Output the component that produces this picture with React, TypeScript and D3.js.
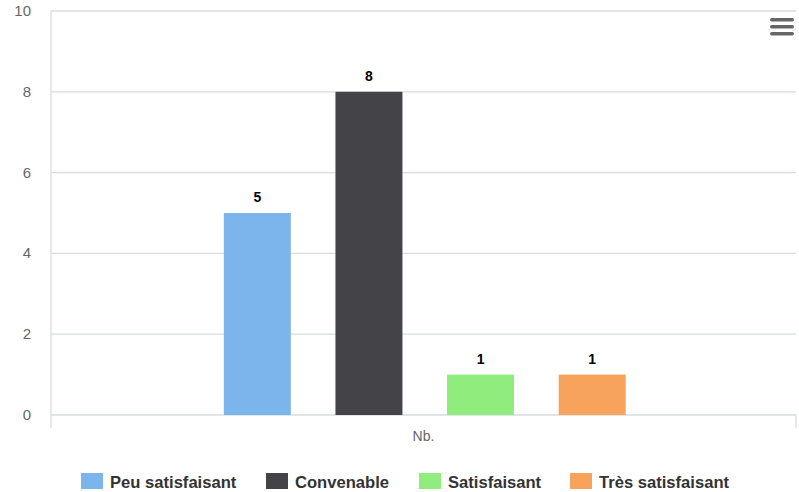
import React from "react";
import * as d3 from "d3";

const categories = ["Nb."];
const seriesNames = ["Peu satisfaisant", "Convenable", "Satisfaisant", "Très satisfaisant"];
const seriesValues = [5, 8, 1, 1];
const seriesColors = ["#7cb5ec", "#434348", "#90ed7d", "#f7a35c"];
const yTicks = [0, 2, 4, 6, 8, 10];

const W = 799;
const H = 492;
const left = 51;
const right = 796;
const top = 11;
const bottom = 415;
const font = "'Liberation Sans', Arial, Helvetica, sans-serif";

export default function App() {
  const y = d3.scaleLinear().domain([0, 10]).range([bottom, top]);
  const xCat = d3.scaleBand().domain(categories).range([left, right]).paddingInner(0).paddingOuter(0);
  const gw = xCat.bandwidth();
  const g0 = xCat(categories[0])!;
  const x = d3
    .scaleBand()
    .domain(seriesNames)
    .range([g0 + gw * 0.2 + 1.5, g0 + gw * 0.8 + 1])
    .paddingInner(0.4)
    .paddingOuter(0.2);

  const legendX = [81, 266, 419, 570];

  return (
    <div style={{ position: "absolute", left: 0, top: 0 }}>
      <svg width={W} height={H} style={{ display: "block", fontFamily: font }}>
        <rect x={0} y={0} width={W} height={H} fill="#fff" />
        {yTicks.map((t) => (
          <g key={t}>
            <line x1={left} x2={right} y1={y(t)} y2={y(t)} stroke="#d8dde0" strokeWidth={1.3} />
            <text x={31} y={y(t) + 5} textAnchor="end" fontSize={15} fill="#666">
              {t}
            </text>
          </g>
        ))}
        <line x1={left} x2={left} y1={top} y2={bottom + 13} stroke="#d8dde0" strokeWidth={1.3} />
        <line x1={right} x2={right} y1={bottom} y2={bottom + 13} stroke="#d8dde0" strokeWidth={1.3} />
        {seriesNames.map((s, i) => (
          <g key={s}>
            <rect
              x={x(s)!}
              y={y(seriesValues[i])}
              width={x.bandwidth()}
              height={y(0) - y(seriesValues[i])}
              fill={seriesColors[i]}
            />
            <text
              x={x(s)! + x.bandwidth() / 2}
              y={y(seriesValues[i]) - 11}
              textAnchor="middle"
              fontSize={14}
              fontWeight="bold"
              fill="#000"
            >
              {seriesValues[i]}
            </text>
          </g>
        ))}
        {categories.map((c) => (
          <text key={c} x={g0 + gw / 2} y={441} textAnchor="middle" fontSize={14} fill="#666">
            {c}
          </text>
        ))}
        {seriesNames.map((s, i) => (
          <g key={s} transform={`translate(${legendX[i]},473)`}>
            <rect x={0} y={0} width={22} height={16} fill={seriesColors[i]} />
            <text x={29} y={15} fontSize={16.6} fontWeight="bold" fill="#333">
              {s}
            </text>
          </g>
        ))}
        <g fill="#666">
          {[18, 25, 32].map((yy) => (
            <rect key={yy} x={770} y={yy} width={24} height={3.5} rx={1.7} />
          ))}
        </g>
      </svg>
    </div>
  );
}
